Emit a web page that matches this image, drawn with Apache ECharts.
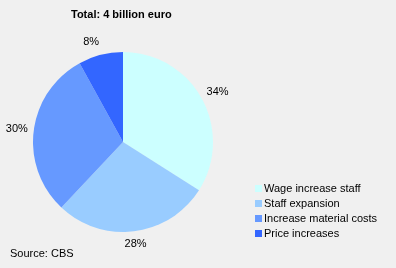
<!DOCTYPE html>
<html><head><meta charset="utf-8">
<script src="https://cdn.jsdelivr.net/npm/echarts@6/dist/echarts.min.js"></script>
<style>html,body{margin:0;padding:0;background:#f0f0f0}#c{width:396px;height:268px}</style>
</head><body><div id="c"></div>
<script>
const categories = ['Wage increase staff', 'Staff expansion', 'Increase material costs', 'Price increases'];
const values = [34, 28, 30, 8];
const colors = ['#ccffff', '#99ccff', '#6699ff', '#3366ff'];
const titleText = 'Total: 4 billion euro';
const sourceText = 'Source: CBS';

const CX = 123, CY = 142, R = 90;
const total = values.reduce((a, b) => a + b, 0);
function midAngle(i) {
  let before = 0;
  for (let k = 0; k < i; k++) before += values[k];
  return (before + values[i] / 2) / total * 2 * Math.PI; // clockwise from top
}

const chart = echarts.init(document.getElementById('c'), null, {renderer: 'canvas'});
chart.setOption({
  backgroundColor: '#f0f0f0',
  animation: false,
  color: colors,
  title: [
    {text: titleText, left: 66, top: 4, textStyle: {fontFamily: 'Liberation Sans, Arial', fontSize: 11, fontWeight: 'bold', color: '#000'}},
    {text: sourceText, left: 5, top: 243, textStyle: {fontFamily: 'Liberation Sans, Arial', fontSize: 11, fontWeight: 'normal', color: '#000'}}
  ],
  legend: {
    orient: 'vertical', left: 250, top: 178,
    itemWidth: 7, itemHeight: 7, itemGap: 4,
    icon: 'rect',
    textStyle: {fontFamily: 'Liberation Sans, Arial', fontSize: 11, color: '#000', padding: [0,0,0,-3]},
    data: categories
  },
  series: [{
    type: 'pie',
    center: [CX, CY],
    radius: R,
    startAngle: 90,
    clockwise: true,
    avoidLabelOverlap: false,
    label: {
      show: true, position: 'outside',
      formatter: p => p.value + '%',
      fontFamily: 'Liberation Sans, Arial', fontSize: 11, color: '#000'
    },
    labelLine: {show: false, length: 6, length2: 0},
    labelLayout: function (params) {
      const a = midAngle(params.dataIndex);
      const s = Math.sin(a), c = Math.cos(a);
      return {
        x: CX + s * 100 + (Math.abs(s) > 0.2 ? Math.sign(s) * 7 : 0),
        y: CY - c * 103,
        align: 'center',
        verticalAlign: 'middle'
      };
    },
    itemStyle: {borderWidth: 0},
    emphasis: {disabled: true},
    data: categories.map((c, i) => ({name: c, value: values[i]}))
  }]
});
</script></body></html>
